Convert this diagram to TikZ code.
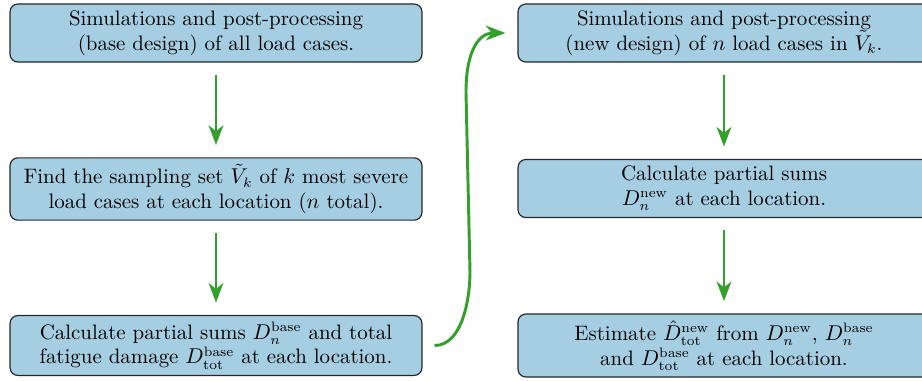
\documentclass[tikz,border=0pt]{standalone}
\usetikzlibrary{arrows.meta,calc}
\definecolor{boxblue}{HTML}{A6CEE3}
\definecolor{arrgreen}{HTML}{33A02C}
\begin{document}
\begin{tikzpicture}[x=0.5115pt,y=-0.5115pt,
  stepbox/.style={draw=black!85,fill=boxblue,line width=0.6pt,rounded corners=4pt,
    minimum width=210.7pt,minimum height=29.7pt,inner ysep=3.2pt,align=center,
    font=\fontsize{10.7}{12.7}\selectfont},
  flow/.style={draw=arrgreen,line width=1.5pt,
    -{Stealth[length=10pt,width=7.5pt,inset=3pt]},shorten <=6.1pt,shorten >=6.3pt}]
\useasboundingbox (0,0) rectangle (922,380);
\node[stepbox] (L1) at (216,33) {Simulations and post-processing\\(base design) of all load cases.};
\node[stepbox] (L2) at (216,189) {Find the sampling set $\tilde{V}_k$ of $k$ most severe\\load cases at each location ($n$ total).};
\node[stepbox] (L3) at (216,345.5) {Calculate partial sums $D_n^{\mathrm{base}}$ and total\\fatigue damage $D_{\mathrm{tot}}^{\mathrm{base}}$ at each location.};
\node[stepbox] (R1) at (724,33) {Simulations and post-processing\\(new design) of $n$ load cases in $\tilde{V}_k$.};
\node[stepbox] (R2) at (724,188.5) {Calculate partial sums\\$D_n^{\mathrm{new}}$ at each location.};
\node[stepbox] (R3) at (724,345.5) {Estimate $\hat{D}_{\mathrm{tot}}^{\mathrm{new}}$ from $D_n^{\mathrm{new}}$, $D_n^{\mathrm{base}}$\\and $D_{\mathrm{tot}}^{\mathrm{base}}$ at each location.};
\draw[flow] (L1) -- (L2);
\draw[flow] (L2) -- (L3);
\draw[flow] (R1) -- (R2);
\draw[flow] (R2) -- (R3);
\coordinate (cs) at ($(L3.east)+(12,0)$);
\coordinate (ce) at ($(R1.west)+(-12,0)$);
\coordinate (bendlo) at (470,272);
\coordinate (bendhi) at (466,92);
\draw[flow,shorten <=0pt,shorten >=0pt] (cs) .. controls +(28,0) and +(0,26) .. (bendlo) -- (bendhi) .. controls +(0,-42) and +(-26,0) .. (ce);
\end{tikzpicture}
\end{document}
